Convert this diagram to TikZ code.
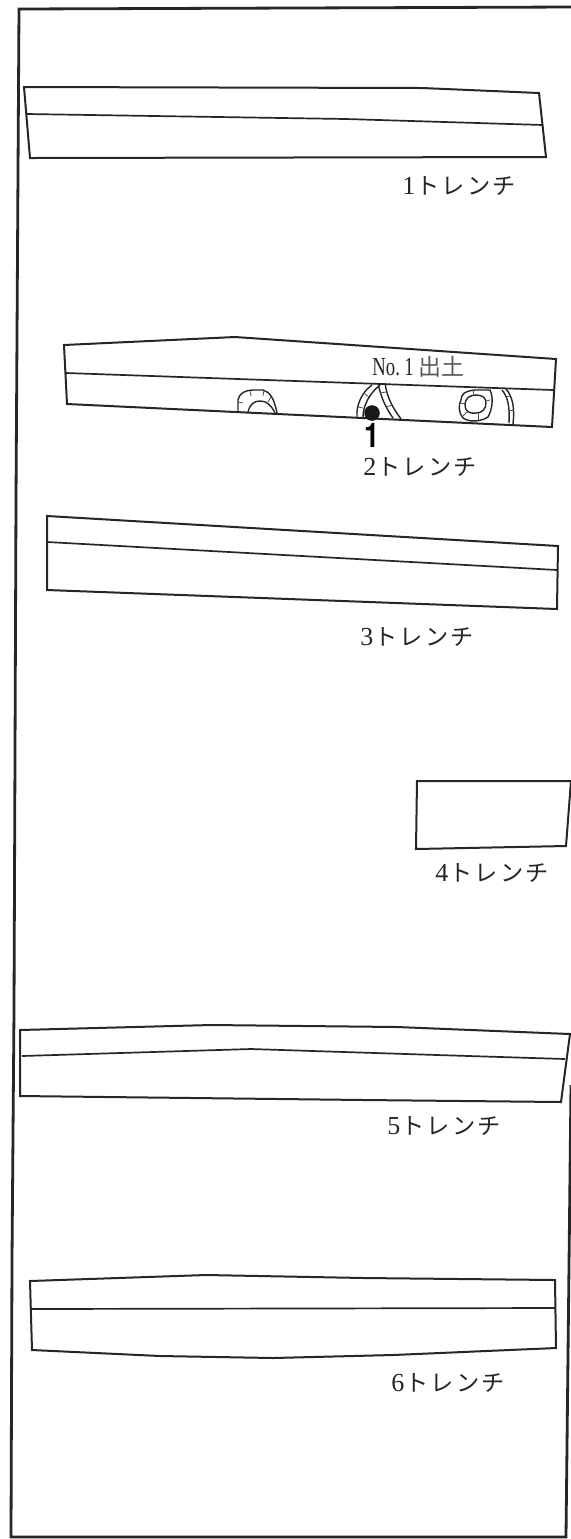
\documentclass[tikz,border=0pt]{standalone}
\usepackage{fontspec}
\setmainfont{Liberation Serif}
\newfontfamily\jpfont[LetterSpace=10]{Noto Sans CJK JP}
\newfontfamily\jpplain{Noto Sans CJK JP}
\newfontfamily\numfont[FakeStretch=0.72]{Liberation Serif}
\newfontfamily\boldone[FakeStretch=0.8]{TeX Gyre Heros}
\newcommand{\trlabel}[1]{{\fontsize{13}{14}\selectfont #1}\hspace{0.5pt}{\fontsize{11.6}{14}\jpfont トレンチ}}
\tikzset{
  frameline/.style={line width=1.4pt,draw=black!85},
  trench/.style={line width=1pt,draw=black!85,line join=miter},
  midline/.style={line width=0.85pt,draw=black!85},
  pit/.style={line width=0.7pt,draw=black!85},
  tick/.style={line width=0.4pt,draw=black!70},
  lab/.style={anchor=west,inner sep=0pt,text=black!85}
}
\begin{document}
\begin{tikzpicture}[x=0.5pt,y=-0.5pt]
\useasboundingbox (0,0) rectangle (571,1539);
\fill[white] (0,0) rectangle (571,1539);
% frame
\draw[frameline] (571,7) -- (19,9) -- (16,500) -- (14,1010) -- (12,1260) -- (11,1537) -- (566,1537) -- (571,1085);
% trench 1
\draw[trench] (24,87) -- (422,88) -- (539,93) -- (546,157) -- (30,158) -- cycle;
\draw[midline] (27,114) -- (346,119) -- (543,125);
\node[lab] (l1) at (402,186) {\trlabel{1}};
% trench 2
\draw[trench] (64,345) -- (235,337) -- (556,359) -- (552,427) -- (67,404) -- cycle;
\draw[midline] (66,373) -- (553,390);
\node[lab] (no1) at (372,367) {{\fontsize{13}{14}\numfont No.\,1}};
\node[lab,text=black!65] (dug) at (418,367) {\fontsize{11.5}{14}\jpplain 出土};
\node[inner sep=0pt] (one) at (372,435) {\fontsize{17}{18}\boldone\bfseries 1};
\node[lab] (l2) at (363,467) {\trlabel{2}};
% arch pit
\draw[pit] (238,412) -- (238,400) .. controls (239,393) and (246,390) .. (253,390) -- (263,390) .. controls (270,392) and (274,398) .. (277,413);
\draw[pit] (248,412) .. controls (250,404) and (254,401) .. (260,401) .. controls (267,401) and (271,405) .. (275,413);
\foreach \a/\b/\c/\d in {238/402/243/403, 250/391/251/396, 264/390/263/396, 271/397/268/402}
  \draw[tick] (\a,\b) -- (\c,\d);
% curved pit with find
\draw[pit] (357,417) .. controls (356,405) and (362,392) .. (372,385);
\draw[pit] (363,417) .. controls (363,405) and (370,393) .. (380,385);
\draw[pit] (378,383) .. controls (381,398) and (386,408) .. (393,418);
\draw[pit] (385,383) .. controls (387,398) and (393,408) .. (401,419);
\foreach \a/\b/\c/\d in {358/407/363/408, 365/394/369/397, 380/393/386/392, 386/407/392/405}
  \draw[tick] (\a,\b) -- (\c,\d);
\fill[black!90] (372,413) circle[radius=7.8];
% ring pit
\draw[pit] (461,400) .. controls (461,394) and (465,391) .. (475,390) -- (490,390) .. controls (494,398) and (492,410) .. (488,417) .. controls (482,421) and (470,423) .. (463,418) .. controls (459,414) and (458,405) .. (461,400) -- cycle;
\draw[pit] (465,405) .. controls (465,398) and (470,395) .. (476,395) .. controls (483,395) and (486,398) .. (486,403) .. controls (486,409) and (482,413) .. (476,413) .. controls (469,414) and (465,411) .. (465,405) -- cycle;
\foreach \a/\b/\c/\d in {461/403/465/403, 473/390/474/395, 490/400/486/401, 478/420/478/413, 463/416/467/412}
  \draw[tick] (\a,\b) -- (\c,\d);
\draw[pit] (502,390) .. controls (507,396) and (510,404) .. (509,423);
\draw[pit] (506,389) .. controls (512,396) and (515,406) .. (513,424);
\foreach \a/\b/\c/\d in {506/397/510/396, 510/410/514/410}
  \draw[tick] (\a,\b) -- (\c,\d);
% trench 3
\draw[trench] (47,516) -- (558,546) -- (557,609) -- (47,590) -- cycle;
\draw[midline] (47,542) -- (557,570);
\node[lab] (l3) at (360,637) {\trlabel{3}};
% trench 4
\draw[trench] (417,781) -- (571,781) -- (566,846) -- (416,849) -- cycle;
\node[lab] (l4) at (435,873) {\trlabel{4}};
% trench 5
\draw[trench] (20,1030) -- (211,1025) -- (397,1027) -- (570,1034) -- (561,1102) -- (364,1100) -- (20,1096) -- cycle;
\draw[midline] (22,1056) -- (251,1049) -- (437,1055) -- (565,1059);
\node[lab] (l5) at (387,1126) {\trlabel{5}};
% trench 6
\draw[trench] (30,1281) -- (206,1275) -- (364,1278) -- (555,1280) -- (556,1348) -- (393,1355) -- (273,1358) -- (160,1356) -- (32,1350) -- cycle;
\draw[midline] (31,1309) -- (555,1308);
\node[lab] (l6) at (391,1383) {\trlabel{6}};
\end{tikzpicture}
\end{document}
